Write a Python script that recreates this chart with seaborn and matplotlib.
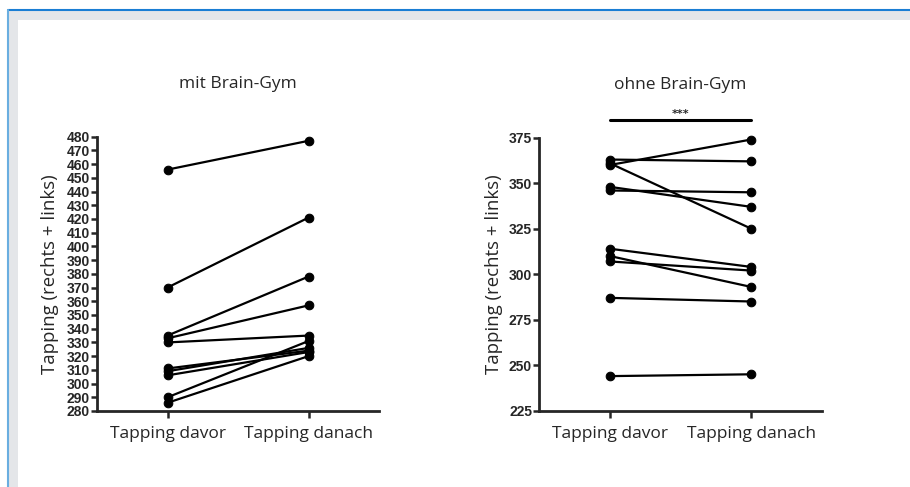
import pandas as pd
import seaborn as sns
import matplotlib.pyplot as plt
import matplotlib.patches as patches

# Daten
zeitpunkte = ["Tapping davor", "Tapping danach"]

mit_davor = [456, 370, 335, 333, 330, 311, 309, 306, 290, 286]
mit_danach = [477, 421, 378, 357, 335, 324, 326, 323, 331, 320]

ohne_davor = [363, 360, 361, 348, 346, 314, 310, 307, 287, 244]
ohne_danach = [362, 374, 325, 337, 345, 304, 293, 302, 285, 245]

mit_yticks = list(range(280, 481, 10))
ohne_yticks = [225, 250, 275, 300, 325, 350, 375]


def lang_format(davor, danach):
    rows = []
    for i, (a, b) in enumerate(zip(davor, danach)):
        rows.append({"id": i, "zeit": zeitpunkte[0], "wert": a})
        rows.append({"id": i, "zeit": zeitpunkte[1], "wert": b})
    return pd.DataFrame(rows)


sns.set_style("ticks")
plt.rcParams['font.family'] = ['Open Sans', 'DejaVu Sans']

fig = plt.figure(figsize=(9.1, 4.87), dpi=100)

# Rahmen (Screenshot-Rand)
W, H = 910, 487
fig.patches.append(patches.Rectangle((8 / W, 0), 1, (H - 10) / H, transform=fig.transFigure,
                                     facecolor="#e4e6e9", edgecolor="none", zorder=-2))
fig.patches.append(patches.Rectangle((18 / W, 0), 1, (H - 20) / H, transform=fig.transFigure,
                                     facecolor="white", edgecolor="none", zorder=-1))
fig.add_artist(plt.Line2D([8 / W, 1], [(H - 10) / H] * 2, color="#1a7ed4", lw=1.5))
fig.add_artist(plt.Line2D([7.5 / W] * 2, [0, (H - 10) / H], color="#6aaee0", lw=1.5))

ax1 = fig.add_axes([97 / W, 76 / H, 282 / W, 274.3 / H])
ax2 = fig.add_axes([539 / W, 76.3 / H, 283 / W, 273 / H])

panels = [
    (ax1, lang_format(mit_davor, mit_danach), "mit Brain-Gym", mit_yticks, 5.5),
    (ax2, lang_format(ohne_davor, ohne_danach), "ohne Brain-Gym", ohne_yticks, 4.5),
]

for ax, df, titel, yticks, lpad in panels:
    ax.set_facecolor("none")
    sns.lineplot(data=df, x="zeit", y="wert", units="id", estimator=None,
                 color="black", marker="o", markersize=6.2, markeredgecolor="black",
                 linewidth=1.6, ax=ax, clip_on=False, sort=False)
    ax.set_xlim(-0.5, 1.5)
    ax.set_ylim(yticks[0], yticks[-1])
    ax.set_yticks(yticks)
    ax.set_yticklabels([str(t) for t in yticks], fontweight="bold", fontsize=10,
                       family=["Liberation Sans", "DejaVu Sans"])
    ax.set_xticks([0, 1])
    ax.set_xticklabels(zeitpunkte, fontsize=12.5)
    ax.set_xlabel("")
    ax.set_ylabel("Tapping (rechts + links)", fontsize=13.4, labelpad=lpad)
    ax.set_title(titel, fontsize=12.5, pad=35)
    sns.despine(ax=ax)
    for s in ["left", "bottom"]:
        ax.spines[s].set_linewidth(2)
    ax.tick_params(axis="y", length=4, width=1.8, pad=1)
    ax.tick_params(axis="x", length=5, width=1.8, pad=6)

# Signifikanzbalken
ax2.plot([0, 1], [384.5, 384.5], color="black", lw=2.2, clip_on=False)
ax2.text(0.5, 385.5, "***", ha="center", va="bottom", fontsize=8, fontweight="bold",
         family="DejaVu Sans")

fig.savefig("out.png", dpi=100)
